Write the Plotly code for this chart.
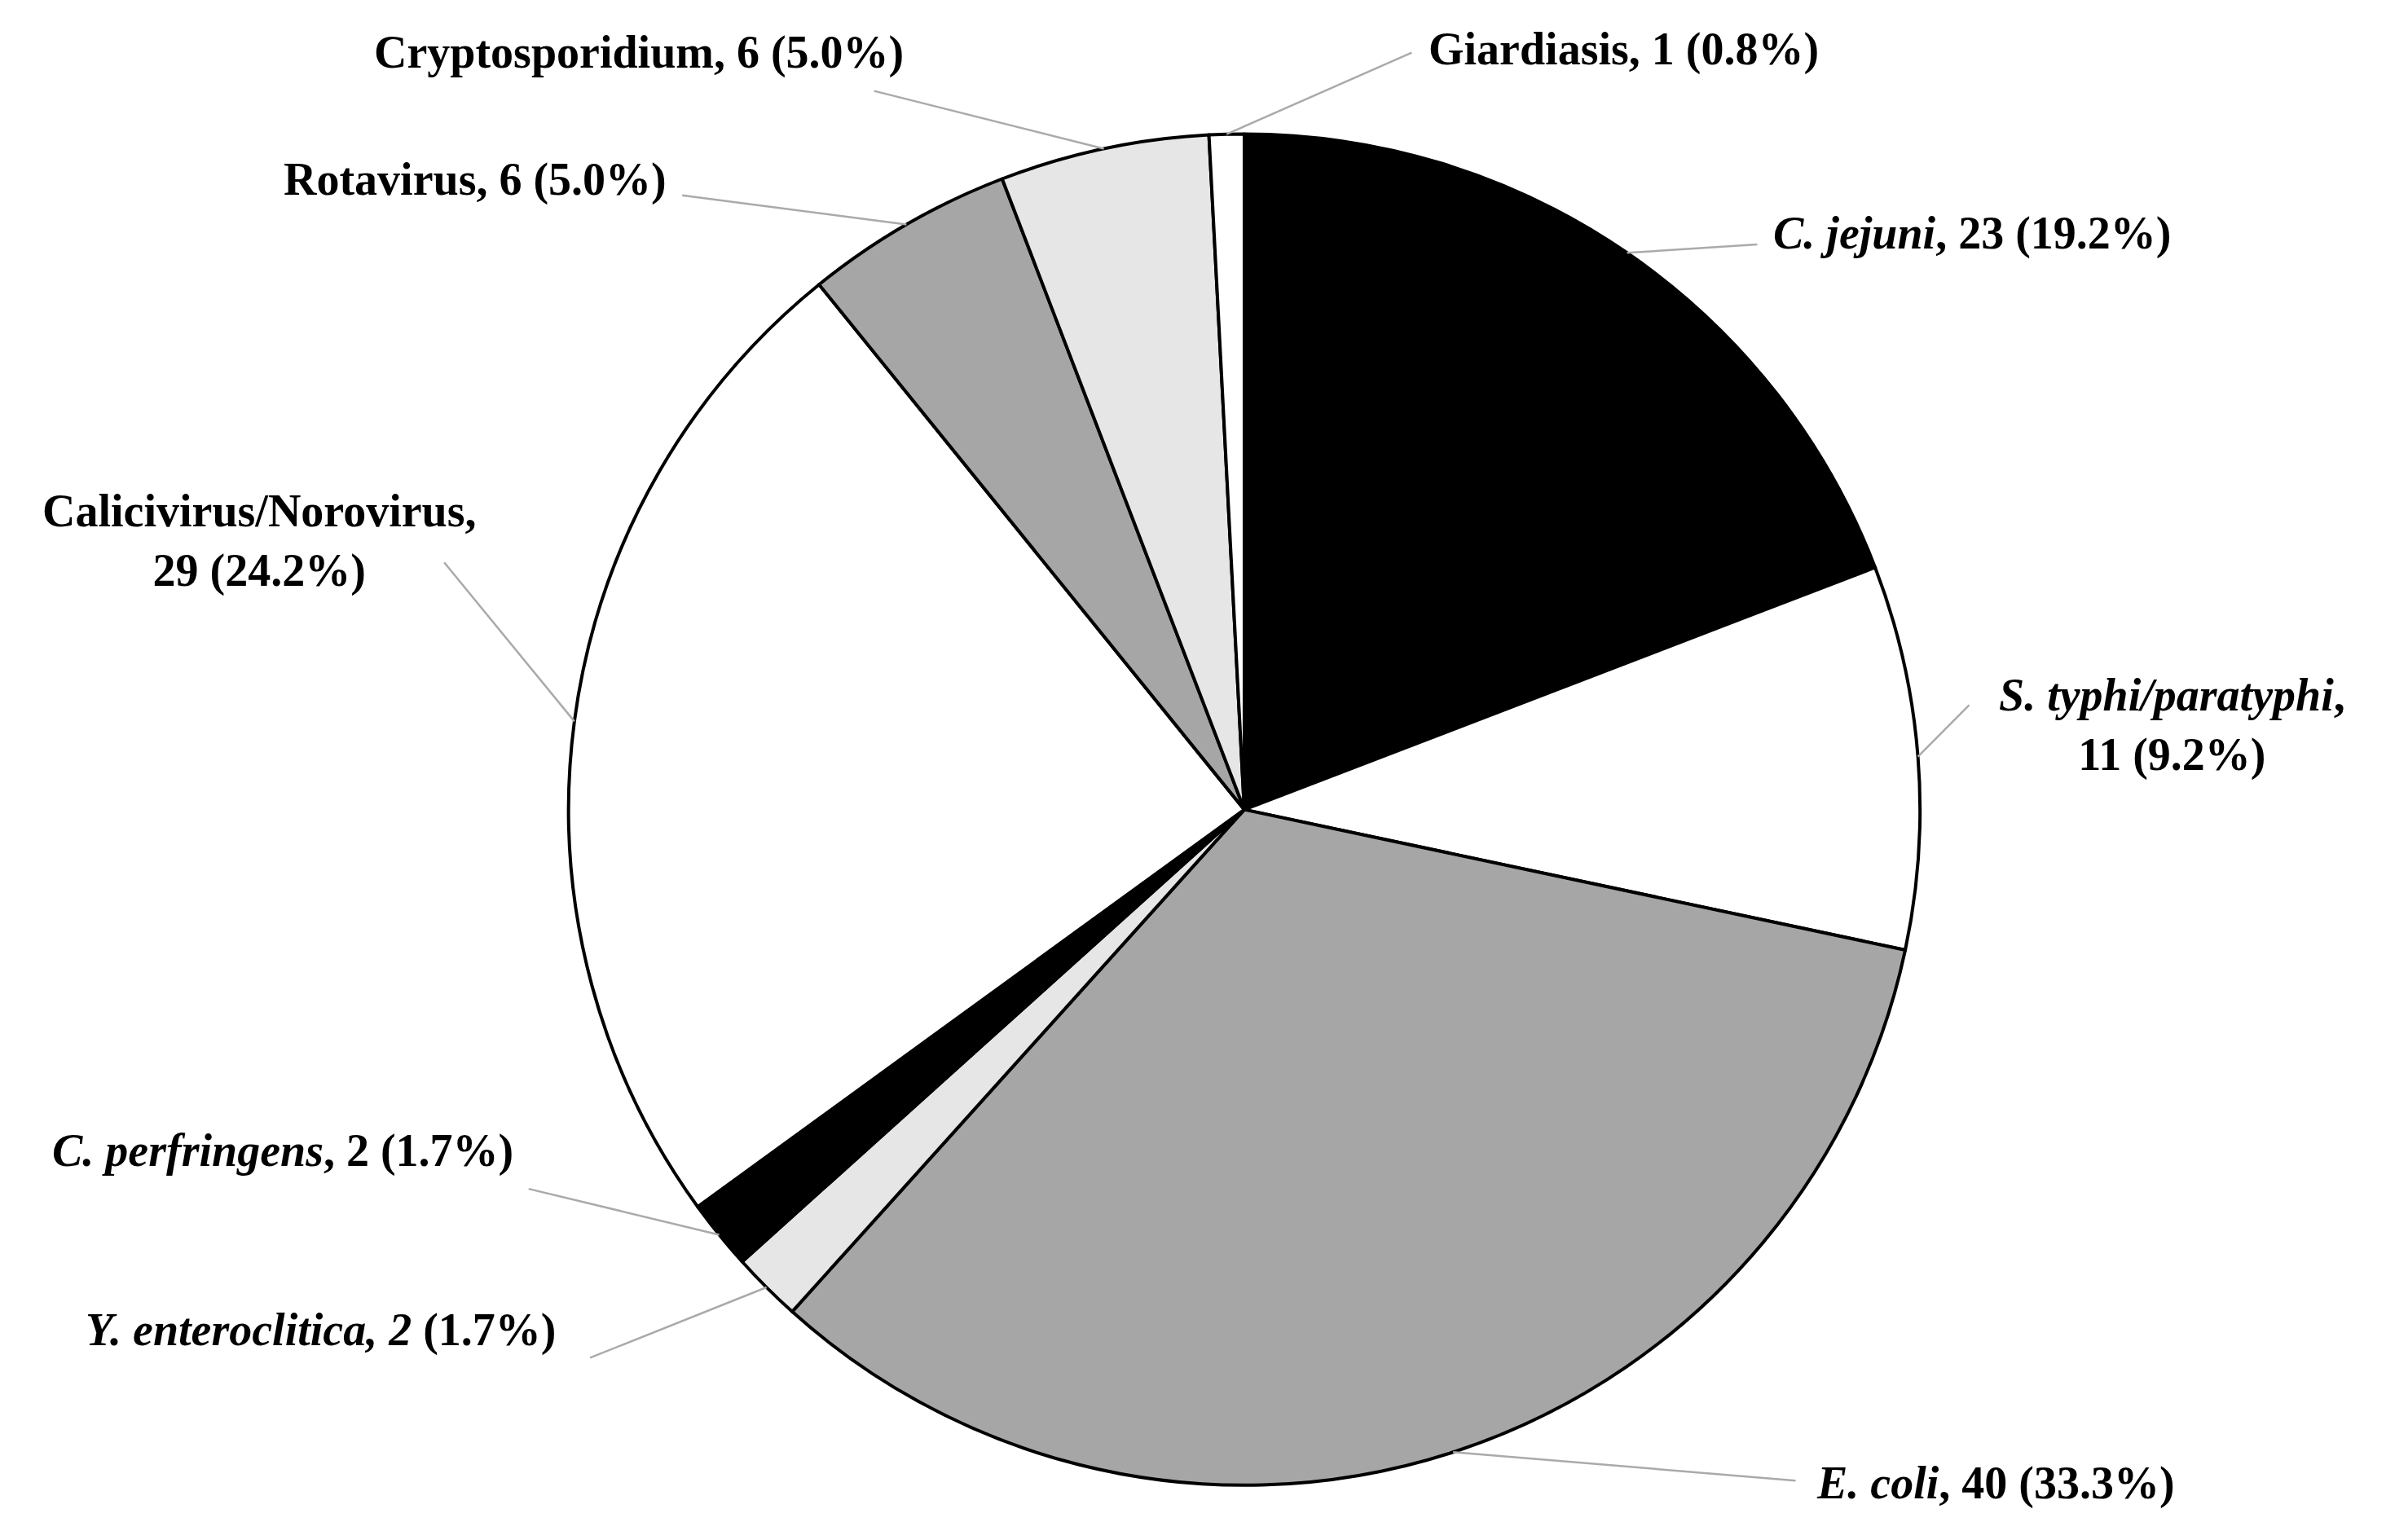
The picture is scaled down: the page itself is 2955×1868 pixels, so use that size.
import numpy as np
import plotly.graph_objects as go

labels = ["C. jejuni", "S. typhi/paratyphi", "E. coli", "Y. enteroclitica", "C. perfringens",
          "Calicivirus/Norovirus", "Rotavirus", "Cryptosporidium", "Giardiasis"]
values = [23, 11, 40, 2, 2, 29, 6, 6, 1]
colors = ["#000000", "#ffffff", "#a6a6a6", "#e6e6e6", "#000000",
          "#ffffff", "#a6a6a6", "#e6e6e6", "#ffffff"]
label_text = ["<i>C. jejuni</i>, 23 (19.2%)", "<i>S. typhi/paratyphi</i>,<br>11 (9.2%)",
              "<i>E. coli</i>, 40 (33.3%)", "<i>Y. enteroclitica, 2</i> (1.7%)",
              "<i>C. perfringens</i>, 2 (1.7%)", "Calicivirus/Norovirus,<br>29 (24.2%)",
              "Rotavirus, 6 (5.0%)", "Cryptosporidium, 6 (5.0%)", "Giardiasis, 1 (0.8%)"]

W, H = 2955, 1868
S = W / 1568  # reference layout scale
cx, cy, R = 806 * S, 523 * S, 440 * S
# text centres and leader-line starts (layout, in reference-scale px)
text_pos = [(1280, 148), (1410, 468), (1295, 962), (205, 862), (180, 745),
            (165, 348), (305, 113), (412, 30), (1053, 28)]
line_start = [(1140, 155), (1278, 455), (1165, 960), (380, 880), (340, 770),
              (285, 362), (440, 123), (565, 55), (915, 30)]

fig = go.Figure(go.Pie(
    labels=labels, values=values, sort=False, direction="clockwise", rotation=0,
    marker=dict(colors=colors, line=dict(color="black", width=4)),
    textinfo="none", hoverinfo="label+value+percent", showlegend=False,
    domain=dict(x=[(cx - R) / W, (cx + R) / W], y=[1 - (cy + R) / H, 1 - (cy - R) / H]),
))

total = sum(values)
cum = np.cumsum([0] + values)
shapes, annotations = [], []
for i, v in enumerate(values):
    ang = np.deg2rad((cum[i] + v / 2) / total * 360)
    ex, ey = cx + R * np.sin(ang), cy - R * np.cos(ang)
    sx, sy = line_start[i][0] * S, line_start[i][1] * S
    shapes.append(dict(type="line", xref="paper", yref="paper",
                       x0=sx / W, y0=1 - sy / H, x1=ex / W, y1=1 - ey / H,
                       line=dict(color="#aaaaaa", width=2.5)))
    tx, ty = text_pos[i][0] * S, text_pos[i][1] * S
    annotations.append(dict(x=tx / W, y=1 - ty / H, xref="paper", yref="paper",
                            xanchor="center", yanchor="middle",
                            text="<b>" + label_text[i] + "</b>", showarrow=False,
                            font=dict(size=56, color="black"), align="center"))

fig.update_layout(width=W, height=H, margin=dict(l=0, r=0, t=0, b=0),
                  paper_bgcolor="white", plot_bgcolor="white",
                  font=dict(family="Liberation Serif"),
                  shapes=shapes, annotations=annotations)
fig.write_html("out.html")
